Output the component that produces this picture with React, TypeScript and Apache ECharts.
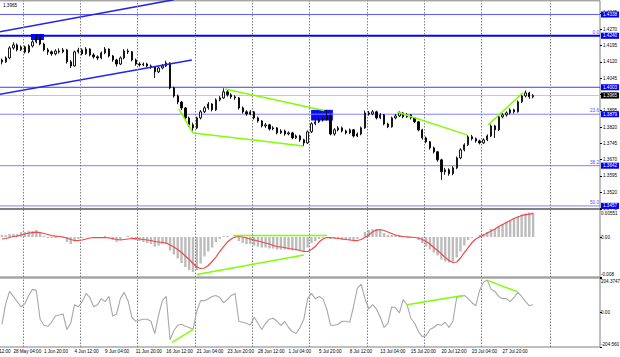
import React, { useEffect, useRef } from 'react';
import * as echarts from 'echarts';

const FONT = 'Liberation Sans, Arial, sans-serif';
const FS = 4.6;

// ---- time axis (each slot = 8 hours, slot 8 is the first visible candle) ----
const SLOT_COUNT = 165;
const FIRST_DATA_SLOT = 8;
const labelSlots = [3, 11, 19, 27, 35, 43, 51, 59, 67, 75, 83, 91, 99, 107, 115, 123, 131, 139];
const timeLabels = [
  '25 May 12:00', '28 May 04:00', '1 Jun 20:00', '4 Jun 12:00', '9 Jun 04:00', '11 Jun 20:00',
  '16 Jun 12:00', '21 Jun 04:00', '23 Jun 20:00', '28 Jun 12:00', '1 Jul 04:00', '5 Jul 20:00',
  '8 Jul 12:00', '13 Jul 04:00', '15 Jul 20:00', '20 Jul 12:00', '23 Jul 04:00', '27 Jul 20:00',
];
const gridSlots = [14, 29, 44, 59, 74, 89, 104, 119, 134, 152];

// ---- price candles [open, close, low, high] ----
const ohlc: number[][] = [
  [1.4128, 1.4120, 1.4108, 1.4135], [1.4120, 1.4138, 1.4115, 1.4145], [1.4138, 1.4184, 1.4132, 1.4192],
  [1.4184, 1.4198, 1.4176, 1.4210], [1.4198, 1.4175, 1.4168, 1.4205], [1.4175, 1.4189, 1.4170, 1.4196],
  [1.4189, 1.4166, 1.4158, 1.4195], [1.4166, 1.4193, 1.4160, 1.4200], [1.4193, 1.4212, 1.4186, 1.4220],
  [1.4212, 1.4235, 1.4205, 1.4245], [1.4235, 1.4202, 1.4196, 1.4240], [1.4202, 1.4175, 1.4168, 1.4208],
  [1.4175, 1.4166, 1.4152, 1.4184], [1.4166, 1.4157, 1.4148, 1.4172], [1.4157, 1.4170, 1.4150, 1.4178],
  [1.4170, 1.4166, 1.4158, 1.4182], [1.4166, 1.4175, 1.4160, 1.4184], [1.4175, 1.4120, 1.4112, 1.4180],
  [1.4120, 1.4101, 1.4092, 1.4128], [1.4101, 1.4166, 1.4098, 1.4172], [1.4166, 1.4175, 1.4158, 1.4185],
  [1.4175, 1.4157, 1.4150, 1.4182], [1.4157, 1.4179, 1.4152, 1.4188], [1.4179, 1.4152, 1.4145, 1.4183],
  [1.4152, 1.4143, 1.4135, 1.4160], [1.4143, 1.4138, 1.4128, 1.4150], [1.4138, 1.4161, 1.4132, 1.4168],
  [1.4161, 1.4179, 1.4155, 1.4188], [1.4179, 1.4147, 1.4140, 1.4182], [1.4147, 1.4129, 1.4120, 1.4152],
  [1.4129, 1.4110, 1.4098, 1.4134], [1.4110, 1.4138, 1.4105, 1.4145], [1.4138, 1.4170, 1.4132, 1.4178],
  [1.4170, 1.4166, 1.4156, 1.4180], [1.4166, 1.4129, 1.4122, 1.4170], [1.4129, 1.4110, 1.4102, 1.4135],
  [1.4110, 1.4106, 1.4098, 1.4118], [1.4106, 1.4110, 1.4100, 1.4117], [1.4110, 1.4101, 1.4094, 1.4116],
  [1.4101, 1.4097, 1.4088, 1.4108], [1.4097, 1.4074, 1.4046, 1.4100], [1.4074, 1.4092, 1.4068, 1.4098],
  [1.4092, 1.4101, 1.4086, 1.4110], [1.4101, 1.4115, 1.4096, 1.4125], [1.4115, 1.4000, 1.3994, 1.4118],
  [1.4000, 1.3963, 1.3955, 1.4006], [1.3963, 1.3935, 1.3925, 1.3970], [1.3935, 1.3908, 1.3898, 1.3940],
  [1.3908, 1.3862, 1.3855, 1.3912], [1.3862, 1.3830, 1.3820, 1.3868], [1.3830, 1.3816, 1.3797, 1.3840],
  [1.3816, 1.3862, 1.3810, 1.3868], [1.3862, 1.3890, 1.3855, 1.3898], [1.3890, 1.3908, 1.3884, 1.3916],
  [1.3908, 1.3926, 1.3900, 1.3935], [1.3926, 1.3899, 1.3892, 1.3930], [1.3899, 1.3945, 1.3894, 1.3952],
  [1.3945, 1.3954, 1.3938, 1.3962], [1.3954, 1.3982, 1.3950, 1.3998], [1.3982, 1.3968, 1.3960, 1.3990],
  [1.3968, 1.3959, 1.3950, 1.3975], [1.3959, 1.3954, 1.3945, 1.3966], [1.3954, 1.3908, 1.3900, 1.3958],
  [1.3908, 1.3890, 1.3882, 1.3915], [1.3890, 1.3880, 1.3872, 1.3897], [1.3880, 1.3890, 1.3874, 1.3898],
  [1.3890, 1.3862, 1.3855, 1.3894], [1.3862, 1.3848, 1.3840, 1.3868], [1.3848, 1.3825, 1.3818, 1.3852],
  [1.3825, 1.3830, 1.3816, 1.3838], [1.3830, 1.3811, 1.3804, 1.3835], [1.3811, 1.3816, 1.3805, 1.3824],
  [1.3816, 1.3793, 1.3786, 1.3820], [1.3793, 1.3802, 1.3788, 1.3810], [1.3802, 1.3788, 1.3780, 1.3808],
  [1.3788, 1.3793, 1.3782, 1.3800], [1.3793, 1.3770, 1.3764, 1.3798], [1.3770, 1.3779, 1.3765, 1.3786],
  [1.3779, 1.3761, 1.3752, 1.3784], [1.3761, 1.3747, 1.3733, 1.3766], [1.3747, 1.3798, 1.3742, 1.3804],
  [1.3798, 1.3835, 1.3792, 1.3842], [1.3835, 1.3844, 1.3828, 1.3852], [1.3844, 1.3853, 1.3838, 1.3860],
  [1.3853, 1.3857, 1.3845, 1.3866], [1.3857, 1.3871, 1.3850, 1.3899], [1.3871, 1.3788, 1.3782, 1.3878],
  [1.3788, 1.3807, 1.3780, 1.3815], [1.3807, 1.3816, 1.3800, 1.3824], [1.3816, 1.3802, 1.3795, 1.3822],
  [1.3802, 1.3793, 1.3786, 1.3808], [1.3793, 1.3807, 1.3788, 1.3813], [1.3807, 1.3779, 1.3772, 1.3811],
  [1.3779, 1.3788, 1.3774, 1.3795], [1.3788, 1.3816, 1.3782, 1.3822], [1.3816, 1.3885, 1.3812, 1.3896],
  [1.3885, 1.3880, 1.3872, 1.3894], [1.3880, 1.3890, 1.3874, 1.3898], [1.3890, 1.3862, 1.3855, 1.3895],
  [1.3862, 1.3876, 1.3856, 1.3884], [1.3876, 1.3834, 1.3828, 1.3880], [1.3834, 1.3821, 1.3815, 1.3840],
  [1.3821, 1.3862, 1.3817, 1.3868], [1.3862, 1.3871, 1.3856, 1.3880], [1.3871, 1.3885, 1.3866, 1.3892],
  [1.3885, 1.3867, 1.3860, 1.3890], [1.3867, 1.3876, 1.3862, 1.3884], [1.3876, 1.3862, 1.3855, 1.3880],
  [1.3862, 1.3844, 1.3838, 1.3866], [1.3844, 1.3807, 1.3800, 1.3848], [1.3807, 1.3770, 1.3762, 1.3812],
  [1.3770, 1.3752, 1.3745, 1.3776], [1.3752, 1.3724, 1.3716, 1.3756], [1.3724, 1.3706, 1.3698, 1.3730],
  [1.3706, 1.3669, 1.3660, 1.3710], [1.3669, 1.3614, 1.3577, 1.3674], [1.3614, 1.3623, 1.3600, 1.3632],
  [1.3623, 1.3605, 1.3596, 1.3630], [1.3605, 1.3632, 1.3598, 1.3640], [1.3632, 1.3678, 1.3626, 1.3684],
  [1.3678, 1.3715, 1.3672, 1.3722], [1.3715, 1.3738, 1.3708, 1.3745], [1.3738, 1.3775, 1.3732, 1.3782],
  [1.3775, 1.3766, 1.3758, 1.3784], [1.3766, 1.3756, 1.3748, 1.3772], [1.3756, 1.3747, 1.3740, 1.3762],
  [1.3747, 1.3761, 1.3742, 1.3768], [1.3761, 1.3779, 1.3755, 1.3786], [1.3779, 1.3825, 1.3774, 1.3832],
  [1.3825, 1.3807, 1.3770, 1.3830], [1.3807, 1.3867, 1.3802, 1.3874], [1.3867, 1.3876, 1.3860, 1.3884],
  [1.3876, 1.3885, 1.3868, 1.3892], [1.3885, 1.3899, 1.3878, 1.3906], [1.3899, 1.3890, 1.3882, 1.3904],
  [1.3890, 1.3936, 1.3886, 1.3942], [1.3936, 1.3963, 1.3930, 1.3970], [1.3963, 1.3977, 1.3956, 1.3988],
  [1.3977, 1.3959, 1.3950, 1.3982], [1.3959, 1.3965, 1.3952, 1.3972],
];

// ---- MACD ----
const macdHist = [
  0.0004, 0.0004, 0.0006, 0.0006, 0.0006, 0.0010, 0.0010, 0.0012, 0.0012, 0.0014,
  0.0008, 0.0002, -0.0002, -0.0002, -0.0002, 0.0000, -0.0002, -0.0010, -0.0014, -0.0008,
  -0.0004, -0.0002, 0.0000, 0.0000, -0.0002, -0.0002, 0.0000, 0.0002, -0.0002, -0.0006,
  -0.0010, -0.0006, 0.0000, 0.0002, -0.0002, -0.0006, -0.0008, -0.0010, -0.0012, -0.0014,
  -0.0019, -0.0017, -0.0014, -0.0014, -0.0027, -0.0035, -0.0043, -0.0052, -0.0060, -0.0066,
  -0.0070, -0.0066, -0.0053, -0.0039, -0.0029, -0.0021, -0.0010, -0.0004, 0.0002, 0.0002,
  0.0000, -0.0002, -0.0008, -0.0012, -0.0014, -0.0014, -0.0017, -0.0019, -0.0021, -0.0021,
  -0.0023, -0.0023, -0.0025, -0.0025, -0.0025, -0.0025, -0.0027, -0.0027, -0.0027, -0.0029,
  -0.0021, -0.0012, -0.0008, -0.0004, -0.0002, 0.0000, -0.0004, -0.0004, -0.0004, -0.0006,
  -0.0006, -0.0006, -0.0006, -0.0004, 0.0000, 0.0010, 0.0014, 0.0016, 0.0016, 0.0014,
  0.0008, 0.0004, 0.0004, 0.0004, 0.0004, 0.0002, 0.0002, 0.0000, -0.0002, -0.0006,
  -0.0012, -0.0019, -0.0025, -0.0031, -0.0037, -0.0045, -0.0049, -0.0051, -0.0049, -0.0041,
  -0.0029, -0.0017, -0.0006, -0.0002, 0.0000, 0.0004, 0.0006, 0.0010, 0.0016, 0.0016,
  0.0022, 0.0026, 0.0031, 0.0033, 0.0037, 0.0041, 0.0045, 0.0047, 0.0049, 0.0049,
];
const macdSignal = [
  -0.0004, -0.0003, -0.0001, 0.0001, 0.0002, 0.0004, 0.0006, 0.0008, 0.0009, 0.0010,
  0.0009, 0.0007, 0.0005, 0.0003, 0.0002, 0.0001, 0.0000, -0.0002, -0.0005, -0.0007,
  -0.0007, -0.0006, -0.0004, -0.0002, -0.0001, -0.0001, -0.0001, -0.0001, -0.0002, -0.0003,
  -0.0005, -0.0006, -0.0005, -0.0004, -0.0003, -0.0003, -0.0004, -0.0005, -0.0006, -0.0007,
  -0.0009, -0.0010, -0.0011, -0.0012, -0.0016, -0.0020, -0.0025, -0.0031, -0.0038, -0.0045,
  -0.0053, -0.0060, -0.0063, -0.0062, -0.0057, -0.0049, -0.0040, -0.0029, -0.0019, -0.0010,
  -0.0004, 0.0000, 0.0001, 0.0000, -0.0002, -0.0004, -0.0006, -0.0008, -0.0010, -0.0012,
  -0.0014, -0.0017, -0.0019, -0.0020, -0.0021, -0.0023, -0.0024, -0.0025, -0.0027, -0.0029,
  -0.0029, -0.0025, -0.0019, -0.0010, -0.0004, -0.0001, -0.0001, -0.0002, -0.0003, -0.0004,
  -0.0005, -0.0006, -0.0007, -0.0007, -0.0005, -0.0001, 0.0004, 0.0010, 0.0014, 0.0015,
  0.0013, 0.0010, 0.0007, 0.0004, 0.0002, 0.0001, 0.0000, 0.0000, -0.0001, -0.0002,
  -0.0005, -0.0009, -0.0014, -0.0021, -0.0027, -0.0034, -0.0041, -0.0047, -0.0051, -0.0050,
  -0.0042, -0.0031, -0.0021, -0.0011, -0.0004, 0.0000, 0.0004, 0.0008, 0.0012, 0.0016,
  0.0021, 0.0025, 0.0029, 0.0033, 0.0037, 0.0040, 0.0043, 0.0045, 0.0046, 0.0047,
];

// ---- CCI ----
const cci = [
  -70, 52, 125, 95, 64, 34, 52, 101, 137, 131,
  -40, -76, -82, -58, -21, -15, -9, -101, -64, 46,
  34, 64, 113, 89, 34, 46, 82, 64, 95, -21,
  -9, 82, 119, 70, -27, -52, -46, -40, -40, -52,
  -125, -15, 70, 95, -162, -107, -76, -70, -82, -89,
  -101, 9, 70, 70, 82, 95, 101, 89, 58, 76,
  101, 113, -52, -58, -64, -76, -27, -64, -101, -64,
  -40, -34, -52, -76, -52, -89, -113, -125, -89, -40,
  82, 113, 82, 95, 82, 21, -76, -76, -70, -52,
  -52, -58, 34, 143, 168, 82, 21, 46, 21, -27,
  -89, -64, 34, 27, -3, 76, 46, -34, -64, -113,
  -143, -137, -101, -89, -70, -76, -58, -89, -52, 89,
  95, 101, 82, 58, 40, 131, 180, 192, 137, 125,
  95, 82, 82, 64, 89, 119, 95, 64, 40, 46,
];

// ---- axis ticks ----
const priceMin = 1.3445;
const priceMax = 1.4401;
const priceStep = 0.0075;
const macdTickValues = [-0.008, 0, 0.00551];
const macdTickLabels = ['-0.008', '0.00', '0.00551'];
const cciTickValues = [-204.56, 0, 204.3747];
const cciTickLabels = ['-204.560', '0.00', '204.3747'];

// ---- levels / objects ----
const levelPrices = [1.4338, 1.4240, 1.4003, 1.3879, 1.3642, 1.3457];
const fibPct = ['0.0', '23.6', '38.2', '50.0'];
const fibPrice = [1.4240, 1.3879, 1.3642, 1.3457];
const lastPrice = 1.3965;
const headerText = '1.3965';

// trend lines: [slot, value]
const channelUpper = [[6, 1.4254], [53, 1.4406]];
const channelLower = [[6, 1.3966], [57.7, 1.4129]];
const greenMain = [
  [[54.3, 1.3903], [58.0, 1.3793], [86.8, 1.3733]],
  [[66.4, 1.3995], [92.3, 1.3896]],
  [[111.4, 1.3889], [129.7, 1.3784]],
  [[135.2, 1.3830], [144.3, 1.3977]],
];
const greenMacd = [
  [[68.5, 0.0003], [93.1, 0.0003]],
  [[59.0, -0.0075], [87.0, -0.0036]],
];
const greenCci = [
  [[52.5, -177], [58.0, -101]],
  [[114.0, 46], [128.6, 101]],
  [[135.2, 189], [143.0, 122]],
];
// rectangles: [slot1, price1, slot2, price2]
const rectBoxes = [
  [15.6, 1.4248, 19.0, 1.4221],
  [88.9, 1.3899, 94.6, 1.3850],
];

function nearestIdx(arr: number[], v: number) {
  let best = 0;
  for (let i = 1; i < arr.length; i++) if (Math.abs(arr[i] - v) < Math.abs(arr[best] - v)) best = i;
  return best;
}

function buildOption() {
  const slotW = 600 / (SLOT_COUNT - FIRST_DATA_SLOT);
  const gridLeft = -FIRST_DATA_SLOT * slotW;
  const xMaxVal = SLOT_COUNT - 0.5;
  const xMinVal = -0.5;
  const categories: string[] = [];
  for (let i = 0; i < SLOT_COUNT; i++) {
    const li = labelSlots.indexOf(i);
    categories.push(li >= 0 ? timeLabels[li] : 's' + i);
  }
  const isLabel = (i: number) => labelSlots.indexOf(i) >= 0;

  const grids = [
    { left: gridLeft, right: 20, top: 0.8, height: 207.7 },
    { left: gridLeft, right: 20, top: 209.5, height: 67.5 },
    { left: gridLeft, right: 20, top: 278, height: 69 },
  ].map((g) => ({
    ...g, show: true, borderColor: '#808080', borderWidth: 1, backgroundColor: 'transparent',
    containLabel: false, outerBoundsMode: 'none',
  }));

  const catAxes = [0, 1, 2].map((gi) => ({
    type: 'category',
    gridIndex: gi,
    data: categories,
    boundaryGap: true,
    axisLine: { show: false, onZero: false },
    axisTick: { show: false },
    axisLabel: {
      show: gi === 2,
      interval: (i: number) => isLabel(i),
      align: 'left',
      fontSize: FS,
      fontFamily: FONT,
      color: '#000',
      margin: 2,
    },
    splitLine: { show: false },
  }));
  const valAxes = [0, 1, 2].map((gi) => ({
    type: 'value',
    gridIndex: gi,
    min: xMinVal,
    max: xMaxVal,
    show: false,
    axisLine: { onZero: false },
  }));

  const baseLabel = { fontSize: FS, fontFamily: FONT, color: '#000' };
  const richEdge = (lbls: string[], vals: number[]) => ({
    ...baseLabel,
    margin: 1,
    formatter: (v: number) => {
      const idx = nearestIdx(vals, v);
      const tag = idx === vals.length - 1 ? 't' : idx === 0 ? 'b' : 'm';
      return '{' + tag + '|' + lbls[idx] + '}';
    },
    rich: {
      t: { ...baseLabel, padding: [7, 0, 0, 0] },
      b: { ...baseLabel, padding: [0, 0, 6, 0] },
      m: { ...baseLabel },
    },
  });

  const yAxes = [
    {
      type: 'value', gridIndex: 0, position: 'right', min: priceMin, max: priceMax, interval: priceStep,
      axisLine: { show: false, onZero: false }, splitLine: { show: false },
      axisTick: { show: true, length: 2, lineStyle: { color: '#000' } },
      axisLabel: { ...baseLabel, margin: 3, showMaxLabel: false, formatter: (v: number) => v.toFixed(4) },
    },
    {
      type: 'value', gridIndex: 1, position: 'right', min: macdTickValues[0], max: macdTickValues[2],
      interval: -macdTickValues[0],
      axisLine: { show: false, onZero: false }, splitLine: { show: false },
      axisTick: { show: true, length: 2, lineStyle: { color: '#000' } },
      axisLabel: richEdge(macdTickLabels, macdTickValues),
    },
    {
      type: 'value', gridIndex: 2, position: 'right', min: cciTickValues[0], max: cciTickValues[2],
      interval: -cciTickValues[0],
      axisLine: { show: false, onZero: false }, splitLine: { show: false },
      axisTick: { show: true, length: 2, lineStyle: { color: '#000' } },
      axisLabel: richEdge(cciTickLabels, cciTickValues),
    },
  ];

  const levelColors = ['#5c5cff', '#0000ff', '#3c3cff', '#8080ff', '#8080ff', '#8080ff'];
  const levelWidths = [1, 2, 1, 1, 1, 1];
  const boxLabel = {
    show: true, distance: 1, fontSize: FS, fontFamily: FONT,
    color: '#ffffff', backgroundColor: '#0000ff', padding: [0.8, 2, 0.3, 2],
  };

  const lineSeries = (data: number[][], xi: number, yi: number, color: string, width: number, z = 5) => ({
    type: 'line', xAxisIndex: xi, yAxisIndex: yi, data, symbol: 'none', showSymbol: false, silent: true, z,
    lineStyle: { color, width }, clip: true,
  });

  // vertical dotted time grid: one series per panel, lines at slot boundaries
  const gridPanels = [
    { xi: 3, yi: 0, lo: priceMin, hi: priceMax },
    { xi: 4, yi: 1, lo: macdTickValues[0], hi: macdTickValues[2] },
    { xi: 5, yi: 2, lo: cciTickValues[0], hi: cciTickValues[2] },
  ];
  const vGridSeries = gridPanels.map((gp) => ({
    type: 'line', xAxisIndex: gp.xi, yAxisIndex: gp.yi, data: [], silent: true, z: 0,
    markLine: {
      silent: true, animation: false, symbol: ['none', 'none'], label: { show: false },
      lineStyle: { type: [1.5, 1.5], color: '#7d7d7d', width: 1 },
      data: gridSlots.map((s) => [{ coord: [s - 0.5, gp.lo] }, { coord: [s - 0.5, gp.hi] }]),
    },
  }));

  const levelSeries = levelPrices.map((p, i) => {
    const fi = fibPrice.indexOf(p);
    const s: any = {
      ...lineSeries([[xMinVal, p], [xMaxVal, p]], 3, 0, levelColors[i], levelWidths[i], 2),
      endLabel: { ...boxLabel, formatter: p.toFixed(4) },
    };
    if (fi >= 0) {
      s.markPoint = {
        silent: true, animation: false, symbol: 'circle', symbolSize: 0,
        data: [{ coord: [xMaxVal, p] }],
        label: {
          show: true, position: [-1, -6], align: 'right', verticalAlign: 'top',
          fontSize: FS, fontFamily: FONT, color: '#4b4bff', formatter: fibPct[fi],
        },
      };
    }
    return s;
  });
  const lastSeries = {
    ...lineSeries([[xMinVal, lastPrice], [xMaxVal, lastPrice]], 3, 0, '#c8c8c8', 1, 2),
    endLabel: { ...boxLabel, backgroundColor: '#000000', formatter: lastPrice.toFixed(4) },
  };

  const series: any[] = [
    ...vGridSeries,
    {
      type: 'custom', xAxisIndex: 3, yAxisIndex: 0, z: 1, silent: true,
      data: rectBoxes,
      encode: { x: [0, 2], y: [1, 3] },
      renderItem: (_p: any, api: any) => {
        const a = api.coord([api.value(0), api.value(1)]);
        const b = api.coord([api.value(2), api.value(3)]);
        return {
          type: 'rect',
          shape: {
            x: Math.min(a[0], b[0]), y: Math.min(a[1], b[1]),
            width: Math.abs(b[0] - a[0]), height: Math.abs(b[1] - a[1]),
          },
          style: { fill: '#0a0aff' },
        };
      },
    },
    ...levelSeries,
    lastSeries,
    {
      type: 'candlestick', xAxisIndex: 0, yAxisIndex: 0, z: 3,
      data: ohlc.map((c, i) => [i + FIRST_DATA_SLOT, c[0], c[1], c[2], c[3]]),
      encode: { x: 0, y: [1, 2, 3, 4] },
      barWidth: 1.8,
      itemStyle: { color: '#ffffff', color0: '#000000', borderColor: '#000000', borderColor0: '#000000', borderWidth: 0.9 },
    },
    lineSeries(channelUpper, 3, 0, '#2222ee', 1.5, 4),
    lineSeries(channelLower, 3, 0, '#2222ee', 1.5, 4),
    ...greenMain.map((d) => lineSeries(d, 3, 0, '#7fff00', 1.5)),
    {
      type: 'bar', xAxisIndex: 1, yAxisIndex: 1, silent: true,
      data: macdHist.map((v, i) => [i + FIRST_DATA_SLOT, v]),
      barWidth: 2.4,
      itemStyle: { color: '#bcbcbc' },
    },
    lineSeries(macdSignal.map((v, i) => [i + FIRST_DATA_SLOT, v]), 1, 1, '#f04848', 1.2),
    ...greenMacd.map((d) => lineSeries(d, 4, 1, '#7fff00', 1.5, 6)),
    lineSeries(cci.map((v, i) => [i + FIRST_DATA_SLOT, v]), 2, 2, '#a8a8a8', 1.1),
    ...greenCci.map((d) => lineSeries(d, 5, 2, '#7fff00', 1.5, 6)),
  ];

  return {
    animation: false,
    backgroundColor: '#ffffff',
    textStyle: { fontFamily: FONT },
    grid: grids,
    xAxis: [...catAxes, ...valAxes],
    yAxis: yAxes,
    series,
    graphic: [
      {
        type: 'text', left: 3, top: 3, z: 10,
        style: { text: headerText, fontSize: FS, fontFamily: FONT, fill: '#000' },
      },
    ],
  };
}

export default function App() {
  const ref = useRef<HTMLDivElement>(null);
  useEffect(() => {
    if (!ref.current) return;
    const chart = echarts.init(ref.current, null, { renderer: 'svg' });
    chart.setOption(buildOption() as any);
    return () => chart.dispose();
  }, []);
  return (
    <div
      ref={ref}
      style={{ position: 'absolute', left: 0, top: 0, width: 620, height: 357, background: '#fff' }}
    />
  );
}
